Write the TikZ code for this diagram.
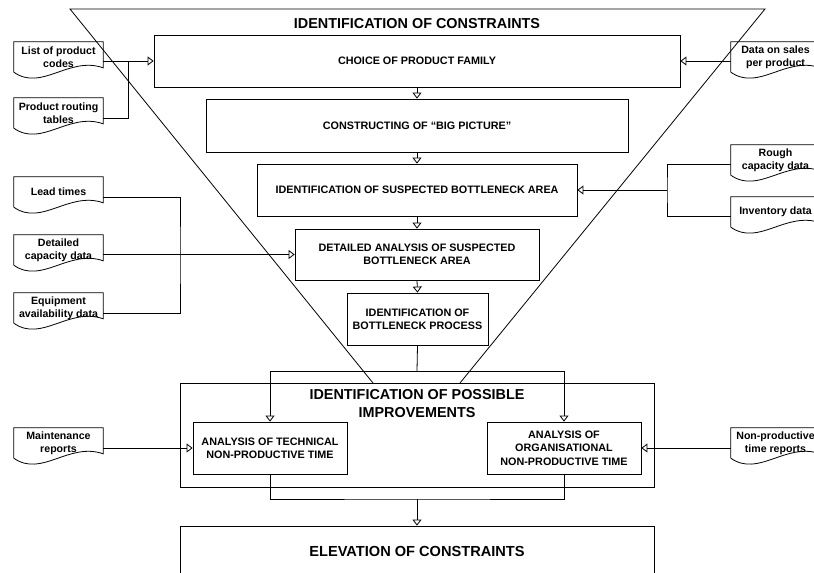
\documentclass[tikz,border=0pt]{standalone}
\usepackage{fontspec}
\setmainfont{Liberation Sans}
\usetikzlibrary{arrows.meta,calc}
\newcommand\docoutline[1]{%
  \draw[conn] (#1.south west) -- (#1.north west) -- (#1.north east) -- ($(#1.north east)+(0,26)$)
    .. controls ($(#1.north west)+(55,14)$) and ($(#1.north west)+(28,50)$) .. (#1.south west);}
\begin{document}
\begin{tikzpicture}[x=1pt,y=-1pt,
  conn/.style={line width=0.8pt},
  arr/.style={conn,-{Triangle[open,length=6pt,width=9pt]}},
  box/.style={draw,line width=0.8pt,inner sep=0pt,align=center,font=\bfseries\fontsize{10.8}{13.3}\selectfont},
  doc/.style={inner sep=0pt,minimum width=89pt,minimum height=30pt,align=center,font=\bfseries\fontsize{10.6}{12.6}\selectfont},
  bigtitle/.style={inner sep=0pt,align=center,font=\bfseries\fontsize{14.4}{18}\selectfont},
]
\useasboundingbox (0,0) rectangle (814,573);
% triangle
\coordinate (tl) at (70,9);
\coordinate (tr) at (765,9);
\coordinate (bl) at (373,383);
\coordinate (br) at (460,383);
\draw[conn] (bl) -- (tl) -- (tr) -- (br);
\node[bigtitle] (title) at (417,24) {IDENTIFICATION OF CONSTRAINTS};
% main chain
\node[box,minimum width=526pt,minimum height=52pt] (b1) at (417,61) {CHOICE OF PRODUCT FAMILY};
\node[box,minimum width=422pt,minimum height=53pt] (b2) at (417,125.5) {CONSTRUCTING OF “BIG PICTURE”};
\node[box,minimum width=320pt,minimum height=52pt] (b3) at (417,190) {IDENTIFICATION OF SUSPECTED BOTTLENECK AREA};
\node[box,minimum width=244pt,minimum height=51pt] (b4) at (417,254.5) {DETAILED ANALYSIS OF SUSPECTED\\BOTTLENECK AREA};
\node[box,minimum width=141pt,minimum height=52pt] (b5) at (417.5,319) {IDENTIFICATION OF\\BOTTLENECK PROCESS};
\node[box,minimum width=474pt,minimum height=104pt] (imp) at (417,435) {};
\node[bigtitle] (imptitle) at (417,404) {IDENTIFICATION OF POSSIBLE\\IMPROVEMENTS};
\node[box,minimum width=154pt,minimum height=52pt] (tech) at (270,448) {ANALYSIS OF TECHNICAL\\NON-PRODUCTIVE TIME};
\node[box,minimum width=154pt,minimum height=52pt] (org) at (564,448) {ANALYSIS OF\\ORGANISATIONAL\\NON-PRODUCTIVE TIME};
\node[box,minimum width=474pt,minimum height=50pt,font=\bfseries\fontsize{14.6}{17}\selectfont] (elev) at (417,551) {ELEVATION OF CONSTRAINTS};
% documents
\node[doc] (d1) at (58.5,57) {List of product\\codes};
\node[doc] (d2) at (58.5,113) {Product routing\\tables};
\node[doc] (d3) at (58.5,192) {Lead times};
\node[doc] (d4) at (58.5,250) {Detailed\\capacity data};
\node[doc] (d5) at (58.5,308) {Equipment\\availability data};
\node[doc] (d6) at (58.5,443) {Maintenance\\reports};
\node[doc] (r1) at (775.5,57) {Data on sales\\per product};
\node[doc] (r2) at (775.5,160) {Rough\\capacity data};
\node[doc] (r3) at (775.5,212) {Inventory data};
\node[doc] (r4) at (775.5,443) {Non-productive\\time reports};
\foreach \d in {d1,d2,d3,d4,d5,d6,r1,r2,r3,r4} {\docoutline{\d}}
% chain arrows
\draw[arr] (b1.south) -- (b2.north);
\draw[arr] (b2.south) -- (b3.north);
\draw[arr] (b3.south) -- (b4.north);
\draw[arr] (b4.south) -- (b5.north);
\coordinate (split) at (417,371);
\draw[conn] (b5.south) -- (split);
\draw[arr] (split) -| (tech.north);
\draw[arr] (split) -| (org.north);
\coordinate (merge) at (417,499);
\draw[conn] (tech.south) |- (merge) -| (org.south);
\draw[arr] (merge) -- (elev.north);
% inputs left
\coordinate (j1) at (128,61);
\draw[arr] (d1.east |- b1.west) -- (b1.west);
\draw[conn] ([yshift=-5pt]d2.east) -| (j1);
\coordinate (j2) at (180,255);
\draw[conn] ([yshift=-5pt]d3.east) -| (j2) |- ([yshift=-5pt]d5.east);
\draw[arr] (d4.east |- b4.west) -- (b4.west);
\draw[arr] (d6.east |- tech.west) -- (tech.west);
% inputs right
\draw[arr] (r1.west |- b1.east) -- (b1.east);
\coordinate (j3) at (667,190);
\draw[conn] ([yshift=-4pt]r2.west) -| (j3) |- ([yshift=-4pt]r3.west);
\draw[arr] (j3) -- (b3.east);
\draw[arr] (r4.west |- org.east) -- (org.east);
\end{tikzpicture}
\end{document}
